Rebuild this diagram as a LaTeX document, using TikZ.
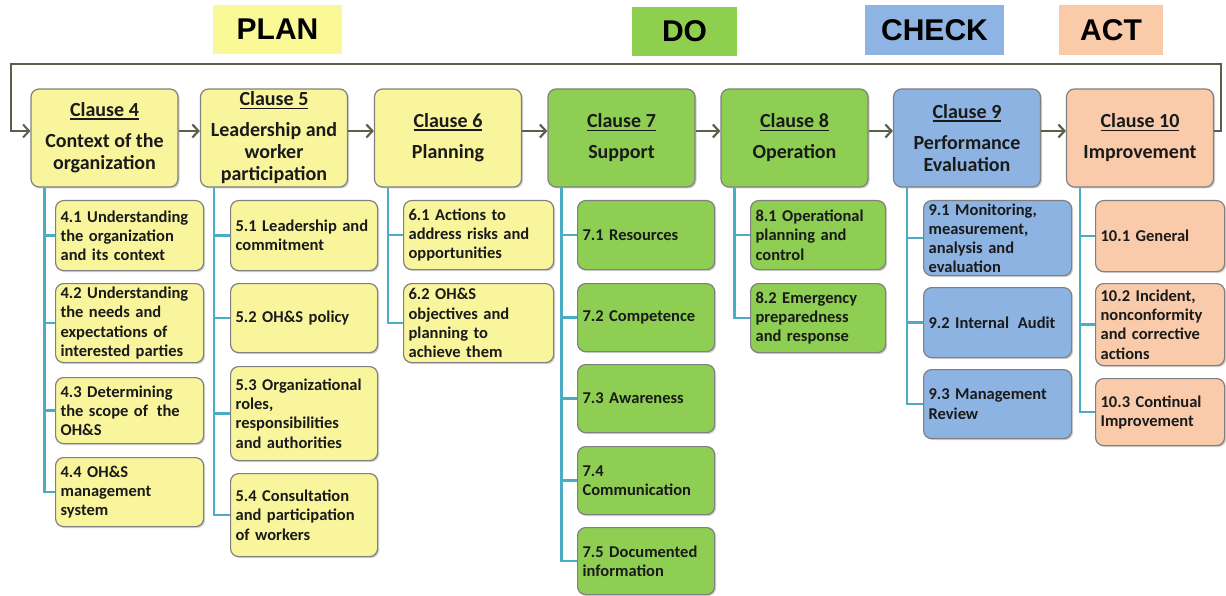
\documentclass[tikz,border=0pt]{standalone}
\usepackage{fontspec}
\setmainfont{Carlito}
\newfontfamily\arialf{Liberation Sans}
\usetikzlibrary{arrows.meta,shadows}
\definecolor{yel}{HTML}{F9F59D}
\definecolor{grn}{HTML}{8ECE52}
\definecolor{blu}{HTML}{8CB3E1}
\definecolor{pch}{HTML}{F9CBAA}
\definecolor{planc}{HTML}{FBF996}
\definecolor{doc}{HTML}{8ECF50}
\definecolor{checkc}{HTML}{8DB4E2}
\definecolor{actc}{HTML}{FACBA8}
\definecolor{boxgray}{HTML}{808080}
\definecolor{txt}{HTML}{1A1A1A}
\definecolor{arrowc}{HTML}{5A6148}
\definecolor{connc}{HTML}{4BACC6}
\newcommand\myul[1]{\vtop{\hbox{#1}\kern1.5pt\hrule height1.5pt}}
\newcommand\mysub[6]{\node[subbox, fill=#5, text width=#3pt, minimum height=#4pt] (#1) at #2 {#6};}
\tikzset{
 box/.style={draw=boxgray, line width=1.2pt, rounded corners=8pt,
   drop shadow={shadow xshift=1.5pt, shadow yshift=-1.5pt, opacity=0.3, fill=black!60}},
 mainbox/.style={box, minimum width=147pt, minimum height=98pt, inner sep=0pt, align=center,
   font=\fontsize{20}{22}\selectfont\bfseries, text=txt},
 subbox/.style={box, inner xsep=5pt, inner ysep=0pt, align=left, anchor=north west,
   font=\fontsize{16.5}{19.2}\selectfont\bfseries, text=txt},
 phase/.style={inner sep=0pt, font=\arialf\bfseries\fontsize{30}{30}\selectfont, text=black},
 flow/.style={draw=arrowc, line width=2.2pt, -{Straight Barb[length=6pt,width=13pt]}},
 conn/.style={draw=connc, line width=2.6pt},
}
\begin{document}
\begin{tikzpicture}[x=1pt,y=-1pt]
\useasboundingbox (0,0) rectangle (1226,596);
% phase labels
\node[phase, fill=planc, minimum width=129pt, minimum height=49pt] (plan) at (277.5,29.5) {PLAN};
\node[phase, fill=doc, minimum width=105pt, minimum height=49pt] (do) at (684.5,31.5) {DO};
\node[phase, fill=checkc, minimum width=139pt, minimum height=50pt] (check) at (934.5,30) {CHECK};
\node[phase, fill=actc, minimum width=104pt, minimum height=50pt] (act) at (1111,30) {ACT};
% main clauses
\node[mainbox, fill=yel] (c4) at (104.5,138) {\myul{Clause 4}\\[9pt]Context of the\\organization};
\node[mainbox, fill=yel] (c5) at (274,138) {\myul{Clause 5}\\[9pt]Leadership and\\worker\\participation};
\node[mainbox, fill=yel] (c6) at (448,138) {\myul{Clause 6}\\[9pt]Planning};
\node[mainbox, fill=grn] (c7) at (621.5,138) {\myul{Clause 7}\\[9pt]Support};
\node[mainbox, fill=grn] (c8) at (794.5,138) {\myul{Clause 8}\\[9pt]Operation};
\node[mainbox, fill=blu] (c9) at (967,138) {\myul{Clause 9}\\[9pt]Performance\\Evaluation};
\node[mainbox, fill=pch] (c10) at (1140,138) {\myul{Clause 10}\\[9pt]Improvement};
% sub clauses
\mysub{s41}{(55,200)}{138}{70}{yel}{4.1 Understanding\\the organization\\and its context}
\mysub{s42}{(55,283)}{138}{79}{yel}{4.2 Understanding\\the needs and\\expectations of\\interested parties}
\mysub{s43}{(55,377)}{138}{66}{yel}{4.3 Determining\\the scope of\hspace{0.2em} the\\OH\&S}
\mysub{s44}{(55,457)}{138}{69}{yel}{4.4 OH\&S\\management\\system}
\mysub{s51}{(230,200)}{137}{70}{yel}{5.1 Leadership and\\commitment}
\mysub{s52}{(230,283)}{137}{69}{yel}{5.2 OH\&S policy}
\mysub{s53}{(230,366)}{137}{94}{yel}{5.3 Organizational\\roles,\\responsibilities\\and authorities}
\mysub{s54}{(230,473)}{137}{83}{yel}{5.4 Consultation\\and participation\\of workers}
\mysub{s61}{(403,200)}{140}{69}{yel}{6.1 Actions to\\address risks and\\opportunities}
\mysub{s62}{(403,283)}{140}{79}{yel}{6.2 OH\&S\\objectives and\\planning to\\achieve them}
\mysub{s71}{(577,200)}{127}{69}{grn}{7.1 Resources}
\mysub{s72}{(577,283)}{127}{68}{grn}{7.2 Competence}
\mysub{s73}{(577,364)}{127}{68}{grn}{7.3 Awareness}
\mysub{s74}{(577,446)}{127}{68}{grn}{7.4\\Communication}
\mysub{s75}{(577,527)}{127}{67}{grn}{7.5 Documented\\information}
\mysub{s81}{(750,200)}{125}{69}{grn}{8.1 Operational\\planning and\\control}
\mysub{s82}{(750,283)}{125}{69}{grn}{8.2 Emergency\\preparedness\\and response}
\mysub{s91}{(923,200)}{138}{75}{blu}{9.1 Monitoring,\\measurement,\\analysis and\\evaluation}
\mysub{s92}{(923,287)}{138}{70}{blu}{9.2 Internal\hspace{0.2em} Audit}
\mysub{s93}{(923,369)}{138}{69}{blu}{9.3 Management\\Review}
\mysub{s101}{(1095,200)}{119}{71}{pch}{10.1 General}
\mysub{s102}{(1095,283)}{119}{82}{pch}{10.2 Incident,\\nonconformity\\and corrective\\actions}
\mysub{s103}{(1095,378)}{119}{67}{pch}{10.3 Continual\\Improvement}
% blue tree connectors
\foreach \c/\last/\others in {c4/s44/{s41,s42,s43}, c5/s54/{s51,s52,s53}, c6/s62/{s61},
  c7/s75/{s71,s72,s73,s74}, c8/s82/{s81}, c9/s93/{s91,s92}, c10/s103/{s101,s102}}{
  \coordinate (v) at ([xshift=14pt]\c.south west);
  \draw[conn] (v) |- (\last.west);
  \foreach \s in \others { \draw[conn] (v |- \s.west) -- (\s.west); }
}
% flow arrows
\draw[flow] ([yshift=7pt]c4.east) -- ([yshift=7pt]c5.west);
\draw[flow] ([yshift=7pt]c5.east) -- ([yshift=7pt]c6.west);
\draw[flow] ([yshift=7pt]c6.east) -- ([yshift=7pt]c7.west);
\draw[flow] ([yshift=7pt]c7.east) -- ([yshift=7pt]c8.west);
\draw[flow] ([yshift=7pt]c8.east) -- ([yshift=7pt]c9.west);
\draw[flow] ([yshift=7pt]c9.east) -- ([yshift=7pt]c10.west);
% feedback loop
\coordinate (loopR) at (1221,64);
\coordinate (loopL) at (11,64);
\draw[flow, line width=2pt] ([yshift=7pt]c10.east) -| (loopR) -- (loopL) |- ([yshift=7pt]c4.west);
\end{tikzpicture}
\end{document}
